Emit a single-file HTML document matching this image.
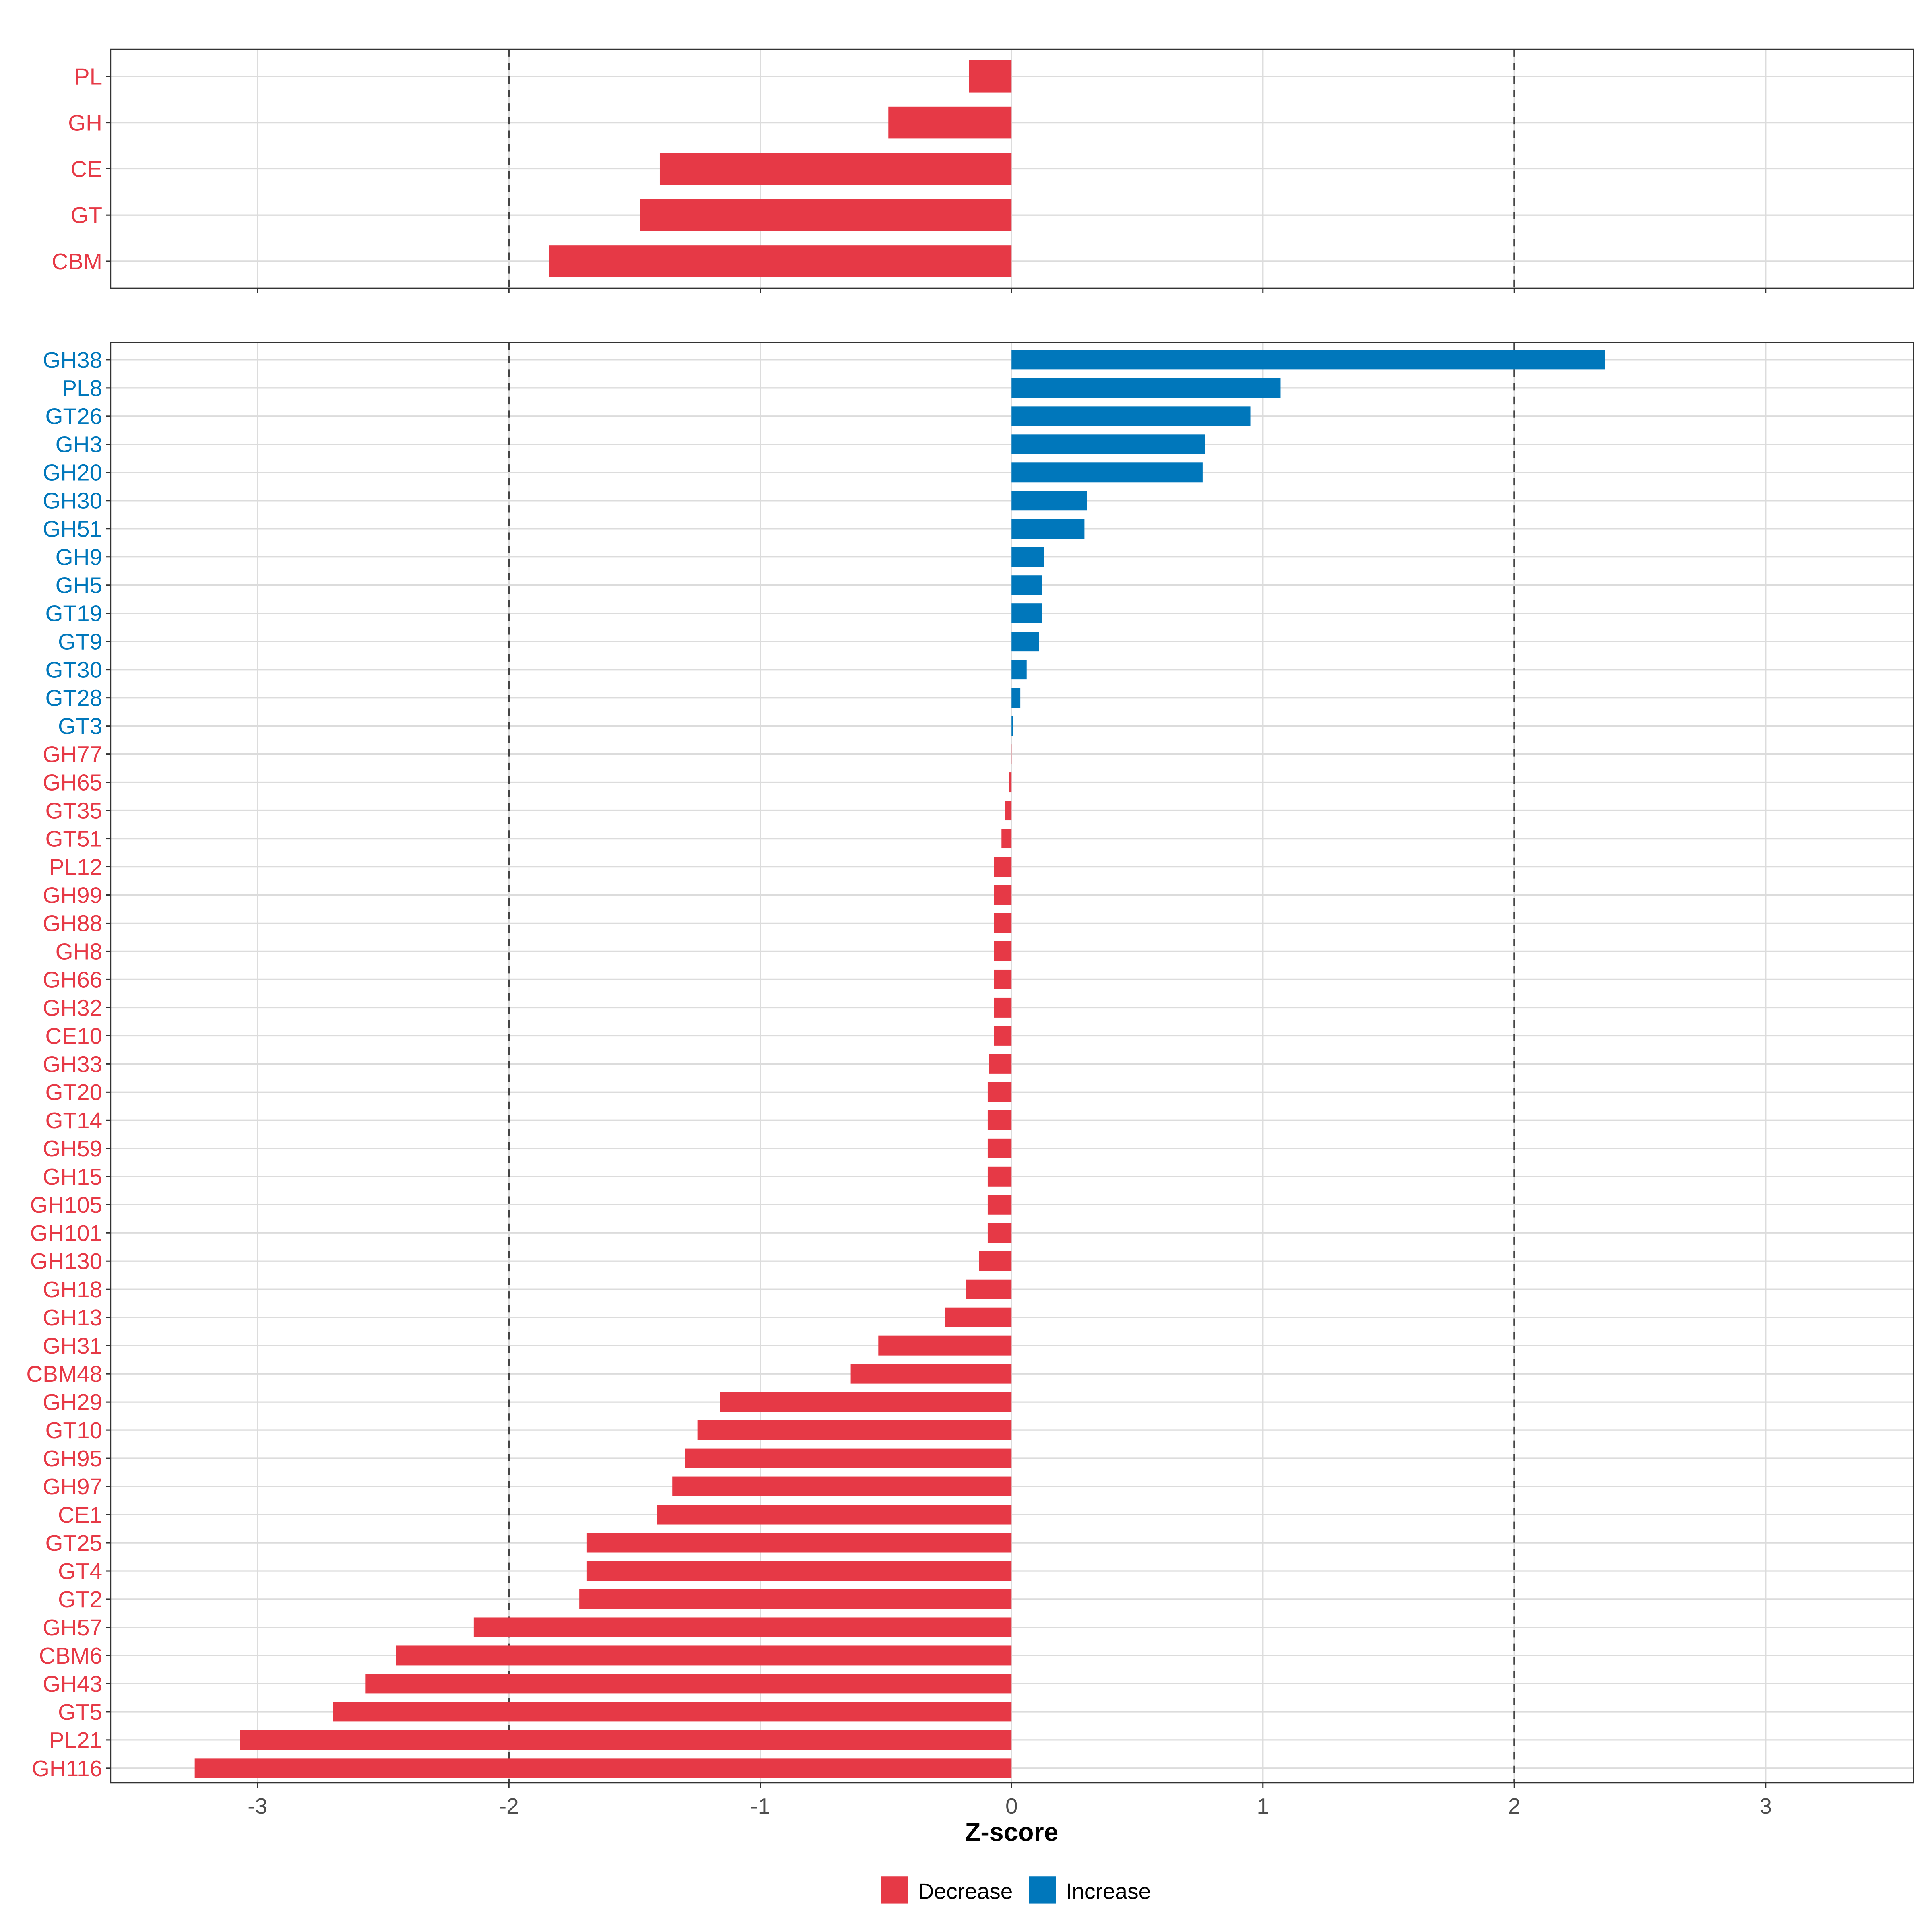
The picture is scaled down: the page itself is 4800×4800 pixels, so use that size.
<!DOCTYPE html>
<html><head><meta charset="utf-8"><style>
html,body{margin:0;padding:0;background:#fff;}
svg{display:block;font-family:"Liberation Sans",Arial,sans-serif;}
</style></head><body>
<svg id="chart" width="4800" height="4800" viewBox="0 0 1568 1568" xmlns="http://www.w3.org/2000/svg">
<g id="top"></g>
<g id="bottom"></g>
<g id="xaxis"></g>
<text x="821" y="1494" text-anchor="middle" font-size="21" font-weight="bold" fill="#000">Z-score</text>
<g>
<rect x="715" y="1523" width="22" height="22" fill="#E63946"/>
<text x="745" y="1541" font-size="18" fill="#000">Decrease</text>
<rect x="835" y="1523" width="22" height="22" fill="#0077BB"/>
<text x="865" y="1541" font-size="18" fill="#000">Increase</text>
</g>
</svg>
<script>
const topCategories = ["PL","GH","CE","GT","CBM"];
const topValues = [-0.17,-0.49,-1.40,-1.48,-1.84];
const bottomCategories = ["GH38","PL8","GT26","GH3","GH20","GH30","GH51","GH9","GH5","GT19","GT9","GT30","GT28","GT3","GH77","GH65","GT35","GT51","PL12","GH99","GH88","GH8","GH66","GH32","CE10","GH33","GT20","GT14","GH59","GH15","GH105","GH101","GH130","GH18","GH13","GH31","CBM48","GH29","GT10","GH95","GH97","CE1","GT25","GT4","GT2","GH57","CBM6","GH43","GT5","PL21","GH116"];
const bottomValues = [2.36,1.07,0.95,0.77,0.76,0.30,0.29,0.13,0.12,0.12,0.11,0.06,0.035,0.005,-0.001,-0.01,-0.025,-0.04,-0.07,-0.07,-0.07,-0.07,-0.07,-0.07,-0.07,-0.09,-0.095,-0.095,-0.095,-0.095,-0.095,-0.095,-0.13,-0.18,-0.265,-0.53,-0.64,-1.16,-1.25,-1.30,-1.35,-1.41,-1.69,-1.69,-1.72,-2.14,-2.45,-2.57,-2.70,-3.07,-3.25];
const xTicks = [-3,-2,-1,0,1,2,3];
const dashedLines = [-2,2];

const NS="http://www.w3.org/2000/svg";
const RED="#E63946", BLUE="#0077BB";
const X0=90, X1=1553;
function xs(v){return 821+v*204;}
function mk(tag,attrs,parent){const e=document.createElementNS(NS,tag);for(const k in attrs)e.setAttribute(k,attrs[k]);parent.appendChild(e);return e;}

function panel(g,cats,vals,y0,y1,firstY,step,barH,prefix){
  mk("rect",{x:X0,y:y0,width:X1-X0,height:y1-y0,fill:"#fff"},g);
  xTicks.forEach(t=>{const l=mk("line",{x1:xs(t),x2:xs(t),y1:y0,y2:y1,stroke:"#dcdcdc","stroke-width":1.1},g);
    
    });
  cats.forEach((c,i)=>{const y=firstY+i*step;
    const l=mk("line",{x1:X0,x2:X1,y1:y,y2:y,stroke:"#dcdcdc","stroke-width":1.1},g);
    
    });
  dashedLines.forEach(d=>{const l=mk("line",{x1:xs(d),x2:xs(d),y1:y0,y2:y1,stroke:"#444","stroke-width":1.3,"stroke-dasharray":"6,5"},g);
    
    });
  cats.forEach((c,i)=>{const y=firstY+i*step;const v=vals[i];const col=v>0?BLUE:RED;
    const a=xs(Math.min(0,v)),b=xs(Math.max(0,v));
    const r=mk("rect",{x:a,y:y-barH/2,width:Math.max(0,b-a),height:barH,fill:col},g);
    
    
    const t=mk("text",{x:83,y:y+6.5,"text-anchor":"end","font-size":18.5,fill:col},g);
    t.textContent=c;
    
    
    mk("line",{x1:86,x2:90,y1:y,y2:y,stroke:"#333","stroke-width":1},g);
  });
  mk("rect",{x:X0,y:y0,width:X1-X0,height:y1-y0,fill:"none",stroke:"#333","stroke-width":1.1},g);
}
panel(document.getElementById("top"),topCategories,topValues,40,234,62,37.5,26,"top");
panel(document.getElementById("bottom"),bottomCategories,bottomValues,278,1447,292,22.86,16,"bottom");
const xa=document.getElementById("xaxis");
xTicks.forEach(t=>{
  mk("line",{x1:xs(t),x2:xs(t),y1:234,y2:238,stroke:"#333","stroke-width":1},xa);
  mk("line",{x1:xs(t),x2:xs(t),y1:1447,y2:1451,stroke:"#333","stroke-width":1},xa);
  const tx=mk("text",{x:xs(t),y:1472,"text-anchor":"middle","font-size":18,fill:"#4d4d4d"},xa);
  tx.textContent=String(t);
  
  
});
</script>
</body></html>
